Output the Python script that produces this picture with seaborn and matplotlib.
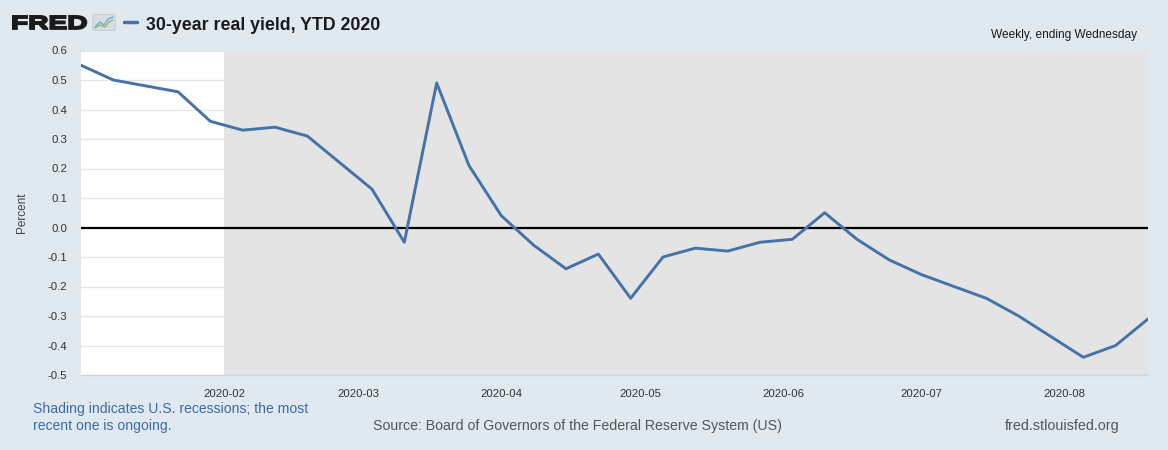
import matplotlib
matplotlib.use('Agg')
import numpy as np
import pandas as pd
import seaborn as sns
import matplotlib.dates as mdates
from matplotlib import pyplot as plt
from matplotlib.textpath import TextPath
from matplotlib.patches import PathPatch, FancyBboxPatch
from matplotlib.font_manager import FontProperties
from matplotlib.transforms import Affine2D

# data (weekly, ending Wednesday)
dates = ['2020-01-01', '2020-01-08', '2020-01-15', '2020-01-22', '2020-01-29',
         '2020-02-05', '2020-02-12', '2020-02-19', '2020-02-26',
         '2020-03-04', '2020-03-11', '2020-03-18', '2020-03-25',
         '2020-04-01', '2020-04-08', '2020-04-15', '2020-04-22', '2020-04-29',
         '2020-05-06', '2020-05-13', '2020-05-20', '2020-05-27',
         '2020-06-03', '2020-06-10', '2020-06-17', '2020-06-24',
         '2020-07-01', '2020-07-08', '2020-07-15', '2020-07-22', '2020-07-29',
         '2020-08-05', '2020-08-12', '2020-08-19']
real_yield = [0.55, 0.50, 0.48, 0.46, 0.36,
              0.33, 0.34, 0.31, 0.22,
              0.13, -0.05, 0.49, 0.21,
              0.04, -0.06, -0.14, -0.09, -0.24,
              -0.10, -0.07, -0.08, -0.05,
              -0.04, 0.05, -0.04, -0.11,
              -0.16, -0.20, -0.24, -0.30, -0.37,
              -0.44, -0.40, -0.31]
recession_start = '2020-02-01'
y_ticks = [0.6, 0.5, 0.4, 0.3, 0.2, 0.1, 0.0, -0.1, -0.2, -0.3, -0.4, -0.5]

df = pd.DataFrame({'date': pd.to_datetime(dates), 'yield': real_yield})

BG = '#e1e9f0'
LINE = '#4572a7'

sns.set_style('white', rc={'axes.facecolor': 'white', 'figure.facecolor': BG})
plt.rcParams['font.family'] = ['Liberation Sans', 'DejaVu Sans']

W, H = 1168, 450
fig = plt.figure(figsize=(W / 100, H / 100), dpi=100)
fig.patch.set_facecolor(BG)

def fx(x):
    return x / W

def fy(y):
    return 1 - y / H

ax = fig.add_axes([fx(81), fy(375), fx(1148) - fx(81), (375 - 50.5) / H])

# grid first, recession shading on top of it
for v in y_ticks:
    if v != 0:
        ax.axhline(v, color='#e6e6e6', lw=1, zorder=0)
ax.axvspan(pd.Timestamp(recession_start), df['date'].iloc[-1], color='#e4e4e4', lw=0, zorder=1)
ax.axhline(0, color='black', lw=1.6, zorder=2)

sns.lineplot(data=df, x='date', y='yield', ax=ax, color=LINE, lw=2.1, zorder=3)

ax.set_xlim(df['date'].iloc[0], df['date'].iloc[-1])
ax.set_ylim(-0.5, 0.6)
ax.set_yticks(y_ticks)
ax.set_yticklabels([f'{v:.1f}' for v in y_ticks])
ax.xaxis.set_major_locator(mdates.MonthLocator(bymonth=range(2, 9)))
ax.xaxis.set_major_formatter(mdates.DateFormatter('%Y-%m'))
ax.tick_params(axis='y', length=0, pad=10, labelsize=8.2, labelcolor='#333333')
ax.tick_params(axis='x', length=7, width=1, color='#ccd6eb', pad=3, labelsize=8.2, labelcolor='#333333')
ax.set_xlabel('')
ax.set_ylabel('Percent', fontsize=8.5, color='#444444', labelpad=14)
for side in ['top', 'right', 'left']:
    ax.spines[side].set_visible(False)
ax.spines['bottom'].set_color('#ccd6eb')
ax.spines['bottom'].set_linewidth(1)

# FRED logo, stretched wide and heavy like the original
fp = FontProperties(family='Liberation Sans', weight='bold')
tp = TextPath((0, 0), 'FRED', size=19, prop=fp)
logo = Affine2D().scale(1.48, 1.0).translate(11, H - 29)
fig.patches.append(PathPatch(logo.transform_path(tp), facecolor='#1a1a1a', edgecolor='#1a1a1a',
                             lw=1.3, transform=None, figure=fig))
icon = FancyBboxPatch((fx(94), fy(30)), fx(20), 15 / H, boxstyle='round,pad=0.001',
                      transform=fig.transFigure, facecolor='#d8dde3', edgecolor='#c0c6cc', lw=0.5)
fig.patches.append(icon)
fig.lines.append(plt.Line2D([fx(95), fx(100), fx(104), fx(108), fx(113)],
                            [fy(27), fy(22), fy(25), fy(19), fy(17)],
                            transform=fig.transFigure, color='#6fa8dc', lw=1))
fig.lines.append(plt.Line2D([fx(95), fx(100), fx(105), fx(109), fx(113)],
                            [fy(28), fy(25), fy(27), fy(22), fy(20)],
                            transform=fig.transFigure, color='#8bbf5a', lw=1))

# legend dash + title
fig.lines.append(plt.Line2D([fx(124), fx(137)], [fy(21.5), fy(21.5)],
                            transform=fig.transFigure, color=LINE, lw=2.5))
fig.text(fx(146), fy(29.5), '30-year real yield, YTD 2020', fontsize=12.8,
         fontweight='bold', color='#1a1a1a', va='baseline')
fig.text(fx(1137), fy(38), 'Weekly, ending Wednesday', fontsize=8.6,
         color='#1a1a1a', ha='right', va='baseline')

# footer
fig.text(fx(33), fy(413), 'Shading indicates U.S. recessions; the most', fontsize=10.1,
         color='#3a6aa8', va='baseline')
fig.text(fx(33), fy(430), 'recent one is ongoing.', fontsize=10.1,
         color='#3a6aa8', va='baseline')
fig.text(fx(373), fy(430), 'Source: Board of Governors of the Federal Reserve System (US)',
         fontsize=10.2, color='#555555', va='baseline')
fig.text(fx(1005), fy(430), 'fred.stlouisfed.org', fontsize=10.4,
         color='#555555', va='baseline')

fig.savefig('out.png', dpi=100, facecolor=BG)
